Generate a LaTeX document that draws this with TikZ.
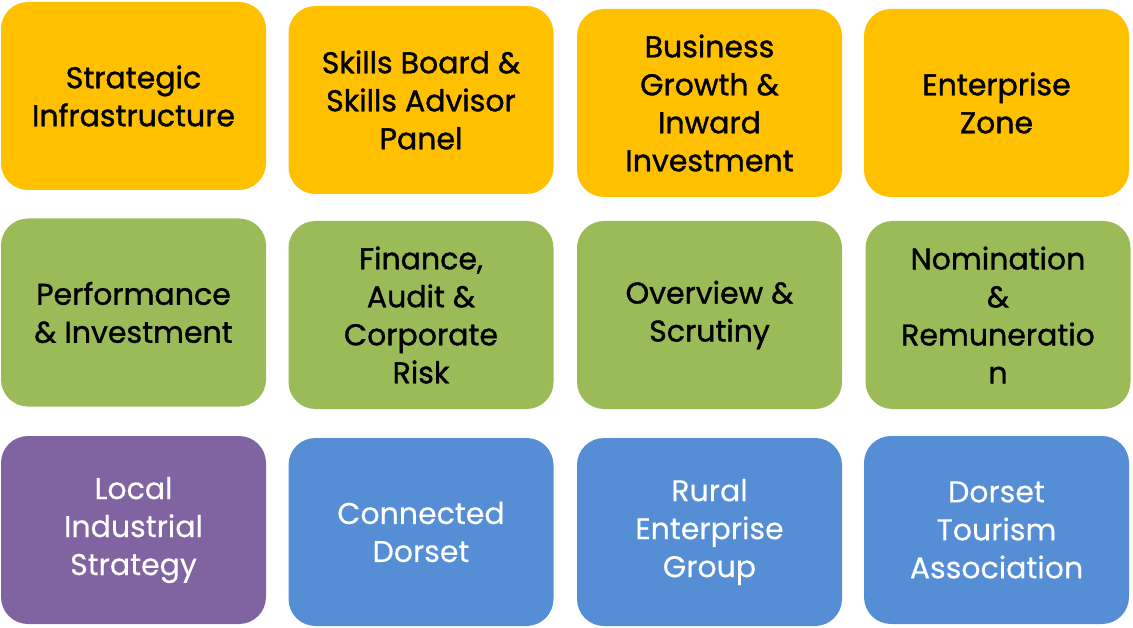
\documentclass[tikz,border=0pt]{standalone}
\usepackage{fontspec}
\setmainfont{Poppins}
\newfontfamily\darkfont{Poppins}[FakeBold=1.2]
\newfontfamily\lightfont{Poppins}[FakeBold=0.3]
\definecolor{cyellow}{HTML}{FFC000}
\definecolor{cgreen}{HTML}{9BBB59}
\definecolor{cpurple}{HTML}{8064A2}
\definecolor{cblue}{HTML}{558ED5}
\begin{document}
\begin{tikzpicture}[x=1pt,y=-1pt,
  card/.style={rectangle, rounded corners=27pt, minimum width=265pt, minimum height=188pt,
    align=center, inner sep=0pt, draw=none},
  ycard/.style={card, fill=cyellow, text=black, font=\darkfont\fontsize{30}{38}\selectfont},
  gcard/.style={card, fill=cgreen, text=black, font=\darkfont\fontsize{30}{38}\selectfont},
  pcard/.style={card, fill=cpurple, text=white, font=\lightfont\fontsize{30}{38}\selectfont},
  bcard/.style={card, fill=cblue, text=white, font=\lightfont\fontsize{30}{38}\selectfont}]
\useasboundingbox (0,0) rectangle (1133,628);
% row 1
\node[ycard] (si) at (133.5,96) {Strategic\\Infrastructure};
\node[ycard] (sb) at (421,100) {Skills Board \&\\Skills Advisor\\Panel};
\node[ycard] (bg) at (709.5,103) {Business\\Growth \&\\Inward\\Investment};
\node[ycard] (ez) at (996.5,103) {Enterprise\\Zone};
% row 2
\node[gcard] (pi) at (133.5,312.5) {Performance\\\& Investment};
\node[gcard] (fa) at (421,315) {Finance,\\Audit \&\\Corporate\\Risk};
\node[gcard] (os) at (709.5,315) {Overview \&\\Scrutiny};
\node[gcard] (nr) at (998,315) {Nomination\\\&\\Remuneratio\\n};
% row 3
\node[pcard] (lis) at (133.5,530) {Local\\Industrial\\Strategy};
\node[bcard] (cd) at (421,532) {Connected\\Dorset};
\node[bcard] (reg) at (709.5,532) {Rural\\Enterprise\\Group};
\node[bcard] (dta) at (996.5,530) {Dorset\\Tourism\\Association};
\end{tikzpicture}
\end{document}
